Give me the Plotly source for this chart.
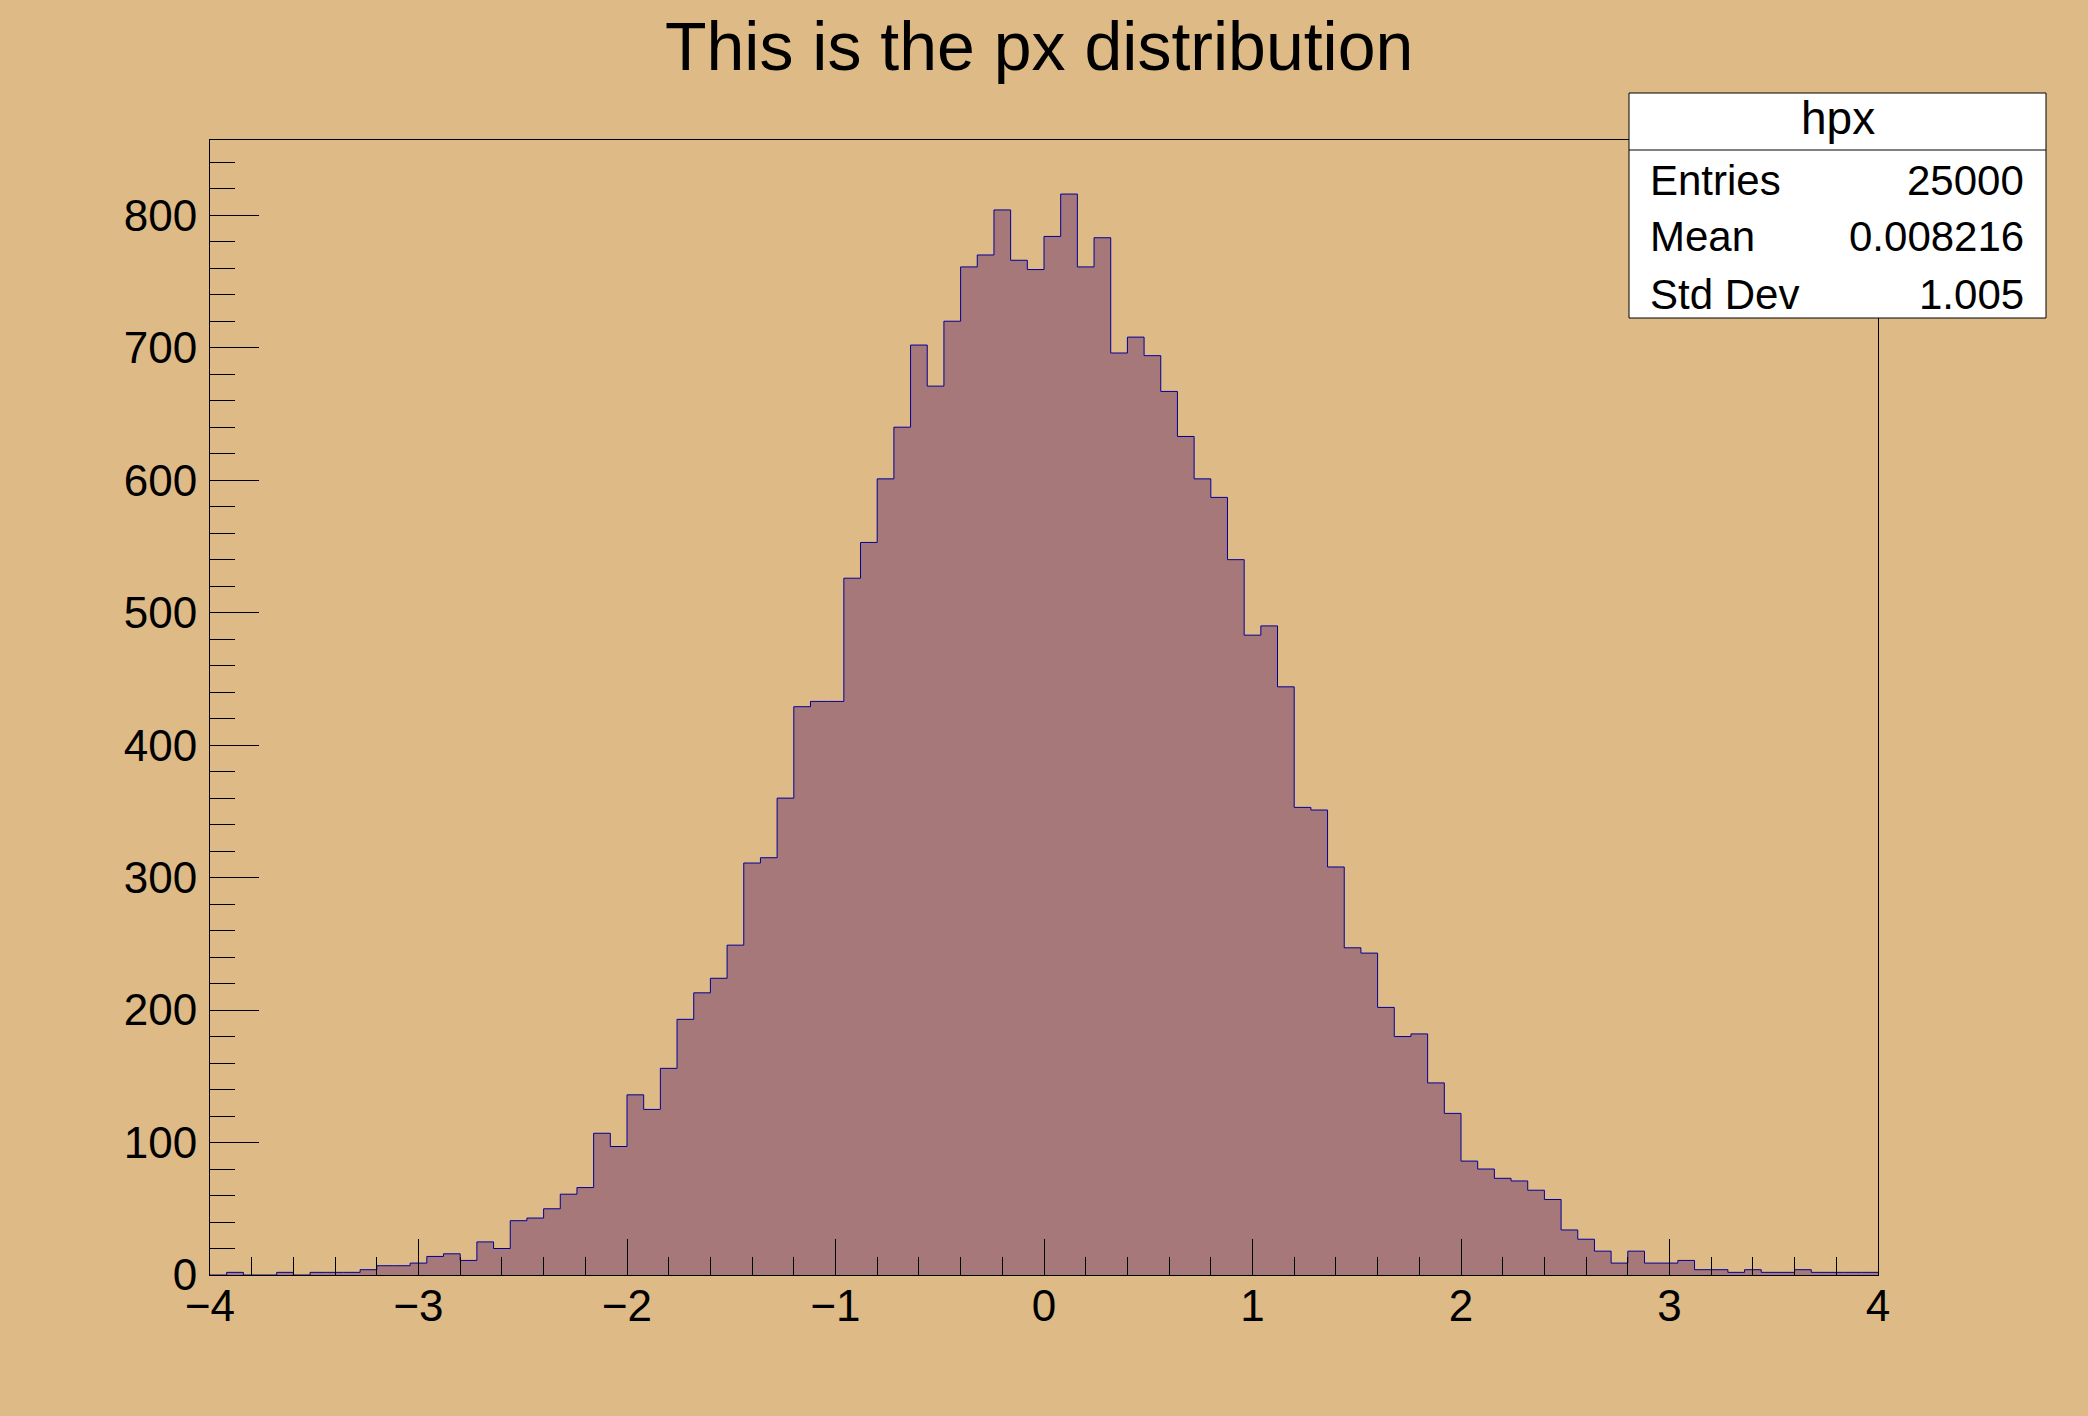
import plotly.graph_objects as go

# ---- data ----
x_low = -4.0
x_high = 4.0
n_bins = 100
counts = [
    0, 2, 0, 0, 2, 0, 2, 2, 2, 4,
    7, 7, 9, 14, 16, 11, 25, 20, 41, 43,
    50, 61, 66, 107, 97, 136, 125, 156, 193, 213,
    224, 249, 311, 315, 360, 429, 433, 433, 526, 553,
    601, 640, 702, 671, 720, 761, 770, 804, 766, 759,
    784, 816, 761, 783, 696, 708, 694, 667, 633, 601,
    587, 540, 483, 490, 444, 353, 351, 308, 247, 243,
    202, 180, 182, 145, 122, 86, 80, 73, 71, 64,
    57, 34, 27, 18, 9, 18, 9, 9, 11, 4,
    4, 2, 4, 2, 2, 4, 2, 2, 2, 2,
]
title_text = "This is the px distribution"
stats_name = "hpx"
stats_labels = ["Entries", "Mean", "Std Dev"]
stats_values = ["25000", "0.008216", "1.005"]

bin_width = (x_high - x_low) / n_bins
edges = [x_low + i * bin_width for i in range(n_bins + 1)]
step_y = counts + [counts[-1]]

# ---- layout geometry (pixels) ----
W, H = 2088, 1416
L, R, T, B = 210, 1878, 140, 1275
BG = "#DEBA87"
FILL = "#A6787A"
LINE = "#000099"
FONT = "Liberation Sans, Arial, Helvetica, sans-serif"


def px_x(p):
    return (p - L) / (R - L)


def px_y(p):
    return (B - p) / (B - T)


fig = go.Figure()
fig.add_trace(go.Scatter(
    x=edges, y=step_y, mode="lines", line_shape="hv",
    line=dict(color=LINE, width=1),
    fill="tozeroy", fillcolor=FILL, showlegend=False,
))

fig.update_layout(
    width=W, height=H,
    margin=dict(l=L, r=W - R, t=T, b=H - B, pad=0),
    paper_bgcolor=BG, plot_bgcolor=BG,
    font=dict(family=FONT, color="black", size=44),
    showlegend=False,
)

fig.update_xaxes(
    range=[x_low, x_high], dtick=1, tick0=0,
    ticks="inside", ticklen=36, tickwidth=1, tickcolor="black",
    minor=dict(dtick=0.2, ticks="inside", ticklen=18, tickwidth=1, tickcolor="black"),
    showgrid=False, zeroline=False,
    showline=True, linecolor="black", linewidth=1, mirror=True,
    tickfont=dict(size=44, family=FONT, color="black"),
    ticklabelstandoff=-8,
)
fig.update_yaxes(
    range=[0, max(counts) * 1.05], dtick=100, tick0=0,
    ticks="inside", ticklen=49, tickwidth=1, tickcolor="black",
    minor=dict(dtick=20, ticks="inside", ticklen=25, tickwidth=1, tickcolor="black"),
    showgrid=False, zeroline=False,
    showline=True, linecolor="black", linewidth=1, mirror=True,
    tickfont=dict(size=44, family=FONT, color="black"),
    ticklabelstandoff=3,
)

# title
fig.add_annotation(
    text=title_text, xref="paper", yref="paper",
    x=px_x(1039), y=px_y(46), xanchor="center", yanchor="middle",
    showarrow=False, font=dict(size=68, family=FONT, color="black"),
)

# stats box
bx0, bx1, by0, by1, bdiv = 1629, 2046, 93, 318, 150
fig.add_shape(type="rect", xref="paper", yref="paper",
              x0=px_x(bx0), x1=px_x(bx1), y0=px_y(by1), y1=px_y(by0),
              fillcolor="white", line=dict(color="black", width=1), layer="above")
fig.add_shape(type="line", xref="paper", yref="paper",
              x0=px_x(bx0), x1=px_x(bx1), y0=px_y(bdiv), y1=px_y(bdiv),
              line=dict(color="black", width=1), layer="above")
fig.add_annotation(
    text=stats_name, xref="paper", yref="paper",
    x=px_x((bx0 + bx1) / 2), y=px_y(118), xanchor="center", yanchor="middle",
    showarrow=False, font=dict(size=46, family=FONT, color="black"),
)
row_mid = [180, 237, 294]
for lab, val, ym in zip(stats_labels, stats_values, row_mid):
    fig.add_annotation(text=lab, xref="paper", yref="paper",
                       x=px_x(1648), y=px_y(ym), xanchor="left", yanchor="middle",
                       showarrow=False, font=dict(size=42, family=FONT, color="black"))
    fig.add_annotation(text=val, xref="paper", yref="paper",
                       x=px_x(2026), y=px_y(ym), xanchor="right", yanchor="middle",
                       showarrow=False, font=dict(size=42, family=FONT, color="black"))

fig.write_html(
    "out.html",
    config={"displayModeBar": False},
    post_script="document.body.style.margin='0';document.body.style.overflow='hidden';",
)
